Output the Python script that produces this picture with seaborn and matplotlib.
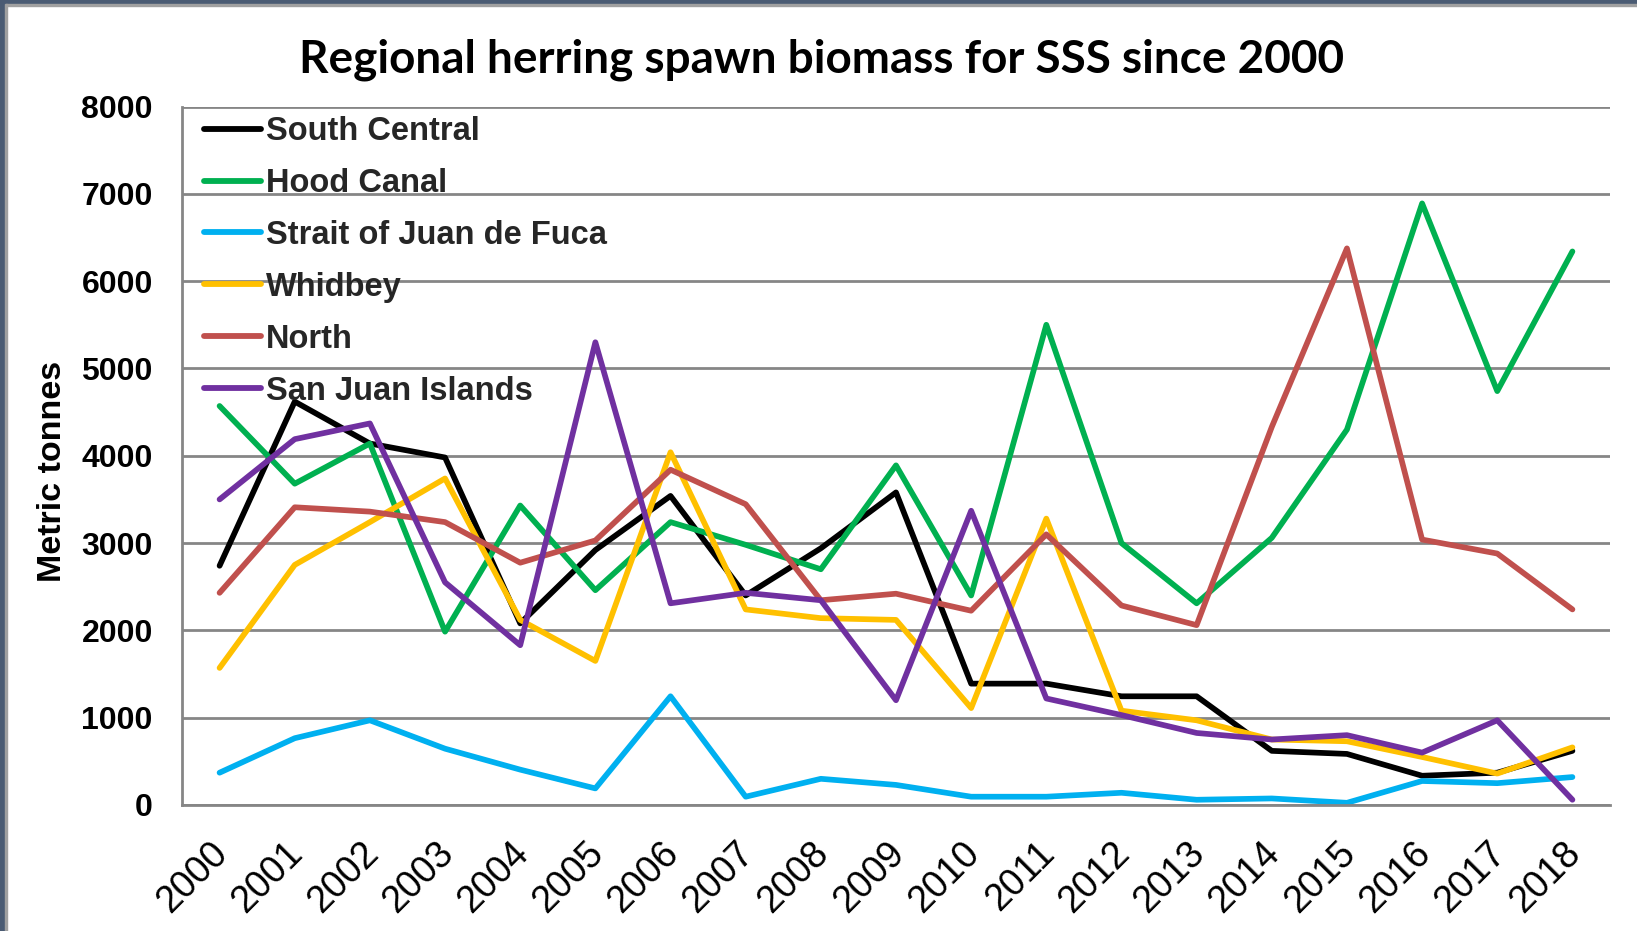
import matplotlib
matplotlib.use("Agg")
import matplotlib.pyplot as plt
import seaborn as sns
import pandas as pd
from matplotlib.patches import Rectangle
from matplotlib.ticker import MultipleLocator, FixedLocator
from matplotlib.transforms import ScaledTranslation

years = list(range(2000, 2019))
south_central = [2740, 4620, 4140, 3980, 2080, 2920, 3540, 2400, 2940, 3580, 1390, 1390, 1245, 1245, 620, 585, 335, 370, 620]
hood_canal = [4570, 3680, 4140, 1985, 3430, 2460, 3240, 2980, 2700, 3890, 2400, 5500, 3000, 2310, 3060, 4300, 6890, 4740, 6340]
strait_jdf = [370, 765, 970, 645, 405, 190, 1245, 95, 300, 230, 95, 95, 140, 60, 75, 25, 275, 250, 320]
whidbey = [1570, 2750, 3240, 3740, 2120, 1650, 4040, 2240, 2140, 2120, 1110, 3280, 1080, 970, 750, 730, 550, 360, 660]
north = [2430, 3410, 3360, 3240, 2775, 3030, 3840, 3445, 2345, 2420, 2225, 3100, 2285, 2060, 4330, 6375, 3040, 2880, 2240]
san_juan = [3500, 4190, 4370, 2550, 1830, 5300, 2310, 2430, 2345, 1200, 3370, 1220, 1030, 825, 750, 800, 600, 970, 60]

regions = ["South Central", "Hood Canal", "Strait of Juan de Fuca", "Whidbey", "North", "San Juan Islands"]
series = [south_central, hood_canal, strait_jdf, whidbey, north, san_juan]
colors = ["#000000", "#00B050", "#00B0F0", "#FFC000", "#C0504D", "#7030A0"]

rows = []
for name, vals in zip(regions, series):
    for y, v in zip(years, vals):
        rows.append({"Year": y, "Biomass": v, "Region": name})
df = pd.DataFrame(rows)

sns.set_theme(style="white")
plt.rcParams['font.family'] = ['Liberation Sans', 'DejaVu Sans']

W, H = 1637, 931
L, R, T, B = 182, 1610, 106.5, 805
fig = plt.figure(figsize=(W / 100, H / 100), dpi=100)
ax = fig.add_axes([L / W, 1 - B / H, (R - L) / W, (B - T) / H])

sns.lineplot(data=df, x="Year", y="Biomass", hue="Region", hue_order=regions,
             palette=colors, linewidth=4.1, ax=ax, legend=True)

ax.set_xlim(1999.5, 2018.5)
ax.set_ylim(0, 8000)
ax.yaxis.set_major_locator(MultipleLocator(1000))
ax.xaxis.set_major_locator(FixedLocator(years))
ax.xaxis.set_minor_locator(FixedLocator([y - 0.5 for y in years] + [2018.5]))
ax.grid(axis="y", color="#868686", linewidth=2)
ax.set_axisbelow(True)
for s in ["top", "right"]:
    ax.spines[s].set_visible(False)
for s in ["left", "bottom"]:
    ax.spines[s].set_color("#868686")
    ax.spines[s].set_linewidth(2)
ax.tick_params(axis="x", which="major", length=0, pad=22)
ax.tick_params(axis="x", which="minor", length=10, width=2, color="#868686", direction="out")
ax.tick_params(axis="y", length=11, width=2, color="#868686", direction="out", pad=10)
ax.set_xticks(years)
ax.set_xticklabels([str(y) for y in years], rotation=45, ha="right", va="top",
                   rotation_mode="anchor", fontsize=27, color="black")
shift = ScaledTranslation(-0.10, 0, fig.dpi_scale_trans)
for lab in ax.get_xticklabels():
    lab.set_transform(lab.get_transform() + shift)
for lab in ax.get_yticklabels():
    lab.set_fontweight("bold")
    lab.set_fontsize(23)
    lab.set_color("black")
ax.set_xlabel("")
ax.set_ylabel("Metric tonnes", fontsize=24.5, fontweight="bold", color="black")
ax.yaxis.set_label_coords(-0.0797, 0.478)

leg = ax.legend(loc="upper left", bbox_to_anchor=(0.0063, 1.005), frameon=False,
                prop={"family": "Liberation Sans", "weight": "bold", "size": 23.5},
                handlelength=1.75, handletextpad=0.15, labelspacing=0.64, borderaxespad=0)
for line in leg.get_lines():
    line.set_linewidth(4.2)

fig.text(822 / W, 1 - 60 / H, "Regional herring spawn biomass for SSS since 2000",
         ha="center", va="center", fontsize=33, fontweight="bold",
         family=["Lato", "DejaVu Sans"], color="black")

# slide frame: top and left edges
fig.patches.append(Rectangle((0, 1 - 4 / H), 1, 4 / H, transform=fig.transFigure,
                             color="#4A5B73", zorder=10))
fig.patches.append(Rectangle((0, 1 - 6 / H), 1, 2 / H, transform=fig.transFigure,
                             color="#A0A0A0", zorder=10))
fig.patches.append(Rectangle((0, 0), 5 / W, 1, transform=fig.transFigure,
                             color="#4A5B73", zorder=10))
fig.patches.append(Rectangle((5 / W, 0), 2 / W, 1 - 4 / H, transform=fig.transFigure,
                             color="#A0A0A0", zorder=10))

fig.savefig("out.png", dpi=100)
